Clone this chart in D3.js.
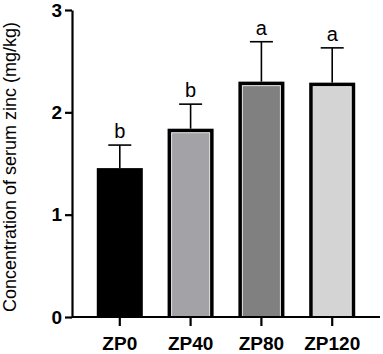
<!DOCTYPE html>
<html>
<head>
<meta charset="utf-8">
<script src="https://cdn.jsdelivr.net/npm/d3@7"></script>
<style>
  body { margin: 0; background: #fff; }
  svg { display: block; font-family: Arial, "Liberation Sans", sans-serif; }
</style>
</head>
<body>
<div id="container"></div>
<script>
/* DATA */
const groups = ["ZP0", "ZP40", "ZP80", "ZP120"];
const means = [1.455, 1.84, 2.30, 2.29];
const sds = [0.225, 0.24, 0.39, 0.34];
const letters = ["b", "b", "a", "a"];
const fills = ["#000000", "#a3a3a7", "#808080", "#d4d4d4"];
const yTicks = [0, 1, 2, 3];

const width = 383;
const height = 354;
const margin = { top: 10, right: 3, bottom: 37, left: 72 };

const svg = d3.select("#container").append("svg")
  .attr("width", width)
  .attr("height", height);

/* SCALES */
const xScale = d3.scaleBand()
  .domain(groups)
  .range([margin.left, width - margin.right])
  .paddingInner(0.35)
  .paddingOuter(0.35);

const yScale = d3.scaleLinear()
  .domain([0, 3])
  .range([height - margin.bottom, margin.top]);

const bw = xScale.bandwidth();
const border = 4;

/* BARS */
const bars = svg.selectAll("g.bar")
  .data(groups)
  .join("g")
  .attr("class", "bar");

bars.append("rect")
  .attr("x", d => xScale(d))
  .attr("y", (d, i) => yScale(means[i]))
  .attr("width", bw)
  .attr("height", (d, i) => yScale(0) - yScale(means[i]))
  .attr("fill", "#000");

bars.filter((d, i) => i > 0).append("rect")
  .attr("x", d => xScale(d) + border)
  .attr("y", d => yScale(means[groups.indexOf(d)]) + border)
  .attr("width", bw - 2 * border)
  .attr("height", d => yScale(0) - yScale(means[groups.indexOf(d)]) - border)
  .attr("fill", d => fills[groups.indexOf(d)])
  .attr("stroke", "#e6e6e6")
  .attr("stroke-width", 1);

/* ERROR BARS */
const capW = 23;
bars.append("line")
  .attr("x1", d => xScale(d) + bw / 2)
  .attr("x2", d => xScale(d) + bw / 2)
  .attr("y1", (d, i) => yScale(means[i]))
  .attr("y2", (d, i) => yScale(means[i] + sds[i]))
  .attr("stroke", "#000")
  .attr("stroke-width", 1.6);

bars.append("line")
  .attr("x1", d => xScale(d) + bw / 2 - capW / 2)
  .attr("x2", d => xScale(d) + bw / 2 + capW / 2)
  .attr("y1", (d, i) => yScale(means[i] + sds[i]))
  .attr("y2", (d, i) => yScale(means[i] + sds[i]))
  .attr("stroke", "#000")
  .attr("stroke-width", 1.6);

bars.append("text")
  .attr("x", d => xScale(d) + bw / 2)
  .attr("y", (d, i) => yScale(means[i] + sds[i]) - 7)
  .attr("text-anchor", "middle")
  .attr("font-size", 20)
  .text((d, i) => letters[i]);

/* AXES */
const xAxis = d3.axisBottom(xScale).tickSize(9).tickSizeOuter(0);
const yAxis = d3.axisLeft(yScale).tickValues(yTicks).tickFormat(d3.format("d")).tickSize(7).tickSizeOuter(0);

const gx = svg.append("g")
  .attr("transform", `translate(0, ${yScale(0)})`)
  .call(xAxis);
gx.select(".domain").attr("d", `M${margin.left},0H${width - margin.right}`).attr("stroke-width", 2.2);
gx.selectAll(".tick line").attr("stroke-width", 2.2);
gx.selectAll(".tick text")
  .attr("font-size", 19)
  .attr("font-weight", "bold")
  .attr("font-family", "Arial, 'Liberation Sans', sans-serif")
  .attr("y", 20)
  .attr("dy", "0.71em")
  .attr("fill", "#000");

const gy = svg.append("g")
  .attr("transform", `translate(${margin.left}, 0)`)
  .call(yAxis);
gy.select(".domain").attr("stroke-width", 2.2);
gy.selectAll(".tick line").attr("stroke-width", 2.2);
gy.selectAll(".tick text")
  .attr("font-size", 19)
  .attr("font-weight", "bold")
  .attr("font-family", "Arial, 'Liberation Sans', sans-serif")
  .attr("x", -10)
  .attr("fill", "#000");

svg.append("text")
  .attr("transform", `translate(16, 167) rotate(-90)`)
  .attr("text-anchor", "middle")
  .attr("font-size", 18)
  .text("Concentration of serum zinc (mg/kg)");
</script>
</body>
</html>
